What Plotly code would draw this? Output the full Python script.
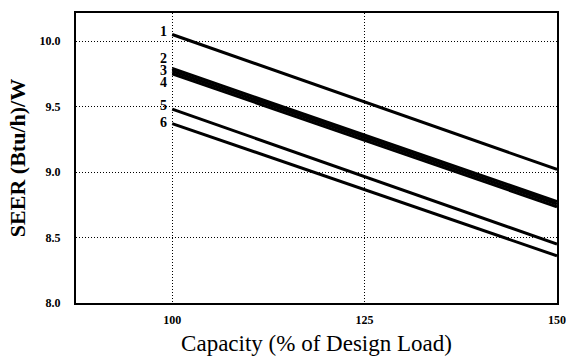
import plotly.graph_objects as go

capacity = [100, 150]
labels = ["1", "2", "3", "4", "5", "6"]
seer_start = [10.05, 9.79, 9.77, 9.75, 9.48, 9.37]
seer_end = [9.02, 8.775, 8.755, 8.735, 8.45, 8.36]
label_y = [10.07, 9.865, 9.775, 9.685, 9.51, 9.38]

x_ticks = [100, 125, 150]
y_ticks = [8.0, 8.5, 9.0, 9.5, 10.0]

font_family = "Liberation Serif"

fig = go.Figure()
for lab, s, e in zip(labels, seer_start, seer_end):
    fig.add_trace(go.Scatter(x=capacity, y=[s, e], mode="lines",
                             line=dict(color="black", width=3),
                             showlegend=False, hoverinfo="skip"))

for lab, ly in zip(labels, label_y):
    fig.add_annotation(x=100, y=ly, text=f"<b>{lab}</b>", showarrow=False,
                       xanchor="right", yanchor="middle", xshift=-3,
                       font=dict(family=font_family, size=14, color="black"))

fig.update_layout(
    width=566, height=358,
    margin=dict(l=76, r=9, t=13, b=55),
    paper_bgcolor="white", plot_bgcolor="white",
    font=dict(family=font_family, color="black"),
)
fig.update_xaxes(range=[87.5, 150], tickvals=x_ticks,
                 ticktext=[f"<b>{v}</b>" for v in x_ticks],
                 tickfont=dict(size=12, family=font_family),
                 showgrid=True, gridcolor="black", griddash="1px,2px", gridwidth=1.2,
                 showline=True, linecolor="black", linewidth=2, mirror=True,
                 ticks="", ticklabelstandoff=5, zeroline=False, automargin=False,
                 title=dict(text="Capacity (% of Design Load)",
                            font=dict(size=23, family=font_family), standoff=8))
fig.update_yaxes(range=[8.0, 10.214], tickvals=y_ticks,
                 ticktext=[f"<b>{v:.1f}</b>" for v in y_ticks],
                 tickfont=dict(size=12, family=font_family),
                 showgrid=True, gridcolor="black", griddash="1px,2px", gridwidth=1.2,
                 showline=True, linecolor="black", linewidth=2, mirror=True,
                 ticks="", ticklabelstandoff=11, zeroline=False, automargin=False,
                 title=dict(text="<b>SEER (Btu/h)/W</b>",
                            font=dict(size=22, family=font_family), standoff=8))

fig.write_html("out.html")
